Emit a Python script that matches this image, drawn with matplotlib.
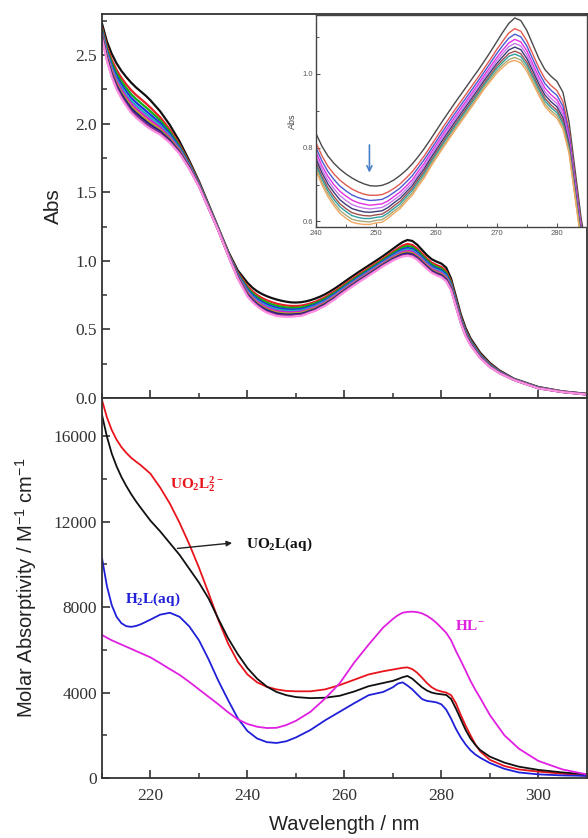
import matplotlib
matplotlib.use("Agg")
import matplotlib.pyplot as plt
from matplotlib.ticker import MultipleLocator

plt.rcParams['mathtext.fontset'] = 'custom'
plt.rcParams['mathtext.rm'] = 'Liberation Sans'
plt.rcParams['mathtext.bf'] = 'Liberation Serif:bold'
plt.rcParams['mathtext.it'] = 'Liberation Sans:italic'

# ---------------- Top panel: titration spectra (Abs) ----------------
wl_top = [210, 211, 212, 213, 214, 215, 216, 217, 218, 219, 220, 222, 224, 226, 228, 230, 232, 234, 236, 238,
          240, 241, 242, 243, 244, 245, 246, 247, 248, 249,
          250, 251, 252, 253, 254, 255, 256, 257, 258, 259,
          260, 261, 262, 263, 264, 265, 266, 267, 268, 269,
          270, 271, 272, 273, 274, 275, 276, 277, 278, 279,
          280, 281, 282, 283, 284, 285, 286,
          288, 290, 292, 295, 300, 305, 310]

abs_1 = [2.73, 2.60, 2.51, 2.44, 2.385, 2.34, 2.30, 2.265, 2.235, 2.205, 2.17, 2.09, 1.99, 1.87, 1.73, 1.58, 1.41, 1.24, 1.07, 0.93,
         0.840, 0.805, 0.778, 0.758, 0.742, 0.729, 0.718, 0.709, 0.702, 0.697,
         0.696, 0.698, 0.704, 0.713, 0.725, 0.739, 0.756, 0.776, 0.798, 0.822,
         0.847, 0.872, 0.896, 0.920, 0.943, 0.966, 0.989, 1.012, 1.036, 1.061,
         1.087, 1.113, 1.137, 1.152, 1.145, 1.118, 1.080, 1.042, 1.012, 0.994,
         0.980, 0.950, 0.870, 0.740, 0.610, 0.510, 0.435,
         0.330, 0.255, 0.200, 0.140, 0.080, 0.048, 0.030]
abs_2 = [2.702, 2.565, 2.467, 2.392, 2.335, 2.287, 2.245, 2.210, 2.180, 2.150, 2.117, 2.047, 1.957, 1.847, 1.715, 1.570, 1.402, 1.235, 1.062, 0.915,
         0.815, 0.779, 0.750, 0.729, 0.712, 0.699, 0.688, 0.680, 0.674, 0.671,
         0.671, 0.673, 0.680, 0.690, 0.702, 0.718, 0.735, 0.756, 0.778, 0.803,
         0.828, 0.853, 0.877, 0.901, 0.924, 0.947, 0.970, 0.993, 1.017, 1.041,
         1.066, 1.089, 1.111, 1.123, 1.116, 1.090, 1.054, 1.017, 0.987, 0.969,
         0.955, 0.925, 0.849, 0.721, 0.594, 0.495, 0.422,
         0.320, 0.247, 0.195, 0.137, 0.077, 0.047, 0.029]
abs_3 = [2.688, 2.547, 2.445, 2.368, 2.309, 2.260, 2.216, 2.181, 2.151, 2.121, 2.090, 2.025, 1.941, 1.836, 1.707, 1.565, 1.399, 1.232, 1.059, 0.907,
         0.802, 0.765, 0.736, 0.714, 0.696, 0.683, 0.672, 0.665, 0.660, 0.657,
         0.658, 0.660, 0.668, 0.679, 0.691, 0.707, 0.724, 0.746, 0.768, 0.793,
         0.818, 0.843, 0.867, 0.891, 0.914, 0.937, 0.960, 0.983, 1.007, 1.031,
         1.055, 1.077, 1.097, 1.108, 1.101, 1.076, 1.040, 1.004, 0.974, 0.956,
         0.942, 0.912, 0.838, 0.711, 0.585, 0.487, 0.416,
         0.315, 0.244, 0.192, 0.136, 0.076, 0.046, 0.028]
abs_4 = [2.675, 2.530, 2.425, 2.345, 2.285, 2.235, 2.190, 2.155, 2.125, 2.095, 2.065, 2.005, 1.925, 1.825, 1.700, 1.560, 1.395, 1.230, 1.055, 0.900,
         0.790, 0.752, 0.723, 0.700, 0.682, 0.669, 0.658, 0.651, 0.647, 0.644,
         0.646, 0.648, 0.656, 0.668, 0.680, 0.696, 0.713, 0.736, 0.758, 0.784,
         0.809, 0.834, 0.858, 0.882, 0.905, 0.928, 0.951, 0.974, 0.998, 1.021,
         1.044, 1.065, 1.084, 1.094, 1.087, 1.063, 1.027, 0.992, 0.962, 0.944,
         0.930, 0.900, 0.827, 0.702, 0.577, 0.480, 0.410,
         0.310, 0.240, 0.190, 0.135, 0.075, 0.045, 0.027]
abs_5 = [2.664, 2.516, 2.408, 2.326, 2.265, 2.214, 2.168, 2.133, 2.103, 2.073, 2.044, 1.988, 1.912, 1.816, 1.694, 1.556, 1.392, 1.228, 1.052, 0.894,
         0.780, 0.742, 0.712, 0.689, 0.670, 0.657, 0.646, 0.640, 0.636, 0.634,
         0.636, 0.638, 0.647, 0.659, 0.671, 0.688, 0.705, 0.728, 0.750, 0.777,
         0.802, 0.827, 0.851, 0.875, 0.898, 0.921, 0.944, 0.967, 0.991, 1.013,
         1.036, 1.056, 1.074, 1.083, 1.076, 1.052, 1.017, 0.982, 0.952, 0.934,
         0.920, 0.890, 0.819, 0.695, 0.571, 0.474, 0.405,
         0.306, 0.237, 0.188, 0.134, 0.074, 0.045, 0.027]
abs_6 = [2.654, 2.503, 2.393, 2.309, 2.247, 2.195, 2.148, 2.113, 2.083, 2.053, 2.025, 1.973, 1.900, 1.808, 1.689, 1.552, 1.389, 1.226, 1.049, 0.889,
         0.771, 0.733, 0.702, 0.679, 0.659, 0.646, 0.635, 0.630, 0.626, 0.625,
         0.627, 0.629, 0.638, 0.651, 0.663, 0.680, 0.697, 0.721, 0.743, 0.770,
         0.795, 0.820, 0.844, 0.868, 0.891, 0.914, 0.937, 0.960, 0.984, 1.006,
         1.028, 1.047, 1.065, 1.073, 1.066, 1.042, 1.008, 0.973, 0.943, 0.925,
         0.911, 0.881, 0.811, 0.688, 0.565, 0.469, 0.400,
         0.302, 0.234, 0.186, 0.133, 0.073, 0.045, 0.027]
abs_7 = [2.644, 2.491, 2.377, 2.292, 2.229, 2.176, 2.128, 2.093, 2.063, 2.033, 2.006, 1.957, 1.889, 1.800, 1.683, 1.549, 1.387, 1.224, 1.047, 0.883,
         0.762, 0.723, 0.692, 0.668, 0.648, 0.635, 0.624, 0.619, 0.616, 0.615,
         0.618, 0.620, 0.630, 0.643, 0.655, 0.673, 0.690, 0.714, 0.736, 0.763,
         0.788, 0.813, 0.837, 0.861, 0.884, 0.907, 0.930, 0.953, 0.977, 0.999,
         1.021, 1.039, 1.055, 1.062, 1.055, 1.032, 0.998, 0.964, 0.934, 0.916,
         0.902, 0.872, 0.804, 0.681, 0.559, 0.463, 0.396,
         0.299, 0.232, 0.184, 0.132, 0.072, 0.044, 0.026]
abs_8 = [2.636, 2.481, 2.365, 2.278, 2.215, 2.161, 2.113, 2.078, 2.048, 2.018, 1.991, 1.945, 1.879, 1.793, 1.679, 1.546, 1.384, 1.223, 1.044, 0.879,
         0.755, 0.716, 0.684, 0.660, 0.640, 0.627, 0.616, 0.611, 0.608, 0.608,
         0.611, 0.613, 0.623, 0.636, 0.648, 0.667, 0.684, 0.708, 0.730, 0.758,
         0.783, 0.808, 0.832, 0.856, 0.879, 0.902, 0.925, 0.948, 0.972, 0.993,
         1.015, 1.032, 1.048, 1.054, 1.047, 1.024, 0.991, 0.957, 0.927, 0.909,
         0.895, 0.865, 0.798, 0.676, 0.555, 0.459, 0.392,
         0.296, 0.229, 0.183, 0.131, 0.071, 0.044, 0.026]
abs_9 = [2.628, 2.470, 2.352, 2.263, 2.199, 2.145, 2.095, 2.060, 2.030, 2.000, 1.975, 1.932, 1.869, 1.786, 1.674, 1.543, 1.382, 1.221, 1.042, 0.874,
         0.747, 0.707, 0.676, 0.651, 0.630, 0.617, 0.606, 0.602, 0.600, 0.599,
         0.603, 0.605, 0.616, 0.629, 0.641, 0.660, 0.677, 0.702, 0.724, 0.752,
         0.777, 0.802, 0.826, 0.850, 0.873, 0.896, 0.919, 0.942, 0.966, 0.987,
         1.008, 1.025, 1.039, 1.045, 1.038, 1.016, 0.982, 0.949, 0.919, 0.901,
         0.887, 0.857, 0.791, 0.670, 0.550, 0.454, 0.388,
         0.293, 0.227, 0.181, 0.131, 0.071, 0.043, 0.025]
abs_10 = [2.620, 2.460, 2.340, 2.250, 2.185, 2.130, 2.080, 2.045, 2.015, 1.985, 1.960, 1.920, 1.860, 1.780, 1.670, 1.540, 1.380, 1.220, 1.040, 0.870,
          0.740, 0.700, 0.668, 0.643, 0.622, 0.609, 0.598, 0.594, 0.592, 0.592,
          0.596, 0.598, 0.609, 0.623, 0.635, 0.654, 0.671, 0.696, 0.718, 0.747,
          0.772, 0.797, 0.821, 0.845, 0.868, 0.891, 0.914, 0.937, 0.961, 0.981,
          1.002, 1.018, 1.032, 1.037, 1.030, 1.008, 0.975, 0.942, 0.912, 0.894,
          0.880, 0.850, 0.785, 0.665, 0.545, 0.450, 0.385,
          0.290, 0.225, 0.180, 0.130, 0.070, 0.043, 0.025]

top_series = [abs_1, abs_2, abs_3, abs_4, abs_5, abs_6, abs_7, abs_8, abs_9, abs_10]
main_colors = ['#111111', '#e8202a', '#10b010', '#2030e0', '#20b0c0', '#d020d0',
               '#c0a020', '#202080', '#803090', '#ff90e0']
inset_colors = ['#4a4a4a', '#e05a50', '#4a5ad0', '#e030e0', '#c878f0', '#3c3c78',
                '#a05050', '#30a0a0', '#a8a878', '#f0a860']

# ---------------- Bottom panel: molar absorptivity ----------------
wl_bot = [210, 211, 212, 213, 214, 215, 216, 217, 218,
          220, 222, 224, 226, 228, 230, 232, 234, 236, 238, 240, 242, 244, 246, 248, 250,
          253, 256, 259, 262, 265, 268,
          270, 271, 272, 273, 274, 275, 276, 277, 278, 279, 280, 281, 282, 283, 284, 285, 286, 287, 288,
          290, 293, 296, 300, 305, 310]
eps_UO2L2 = [17700, 16900, 16300, 15850, 15500, 15230, 15000, 14820, 14650,
             14250, 13600, 12850, 11950, 10950, 9850, 8650, 7400, 6300, 5450, 4850, 4480, 4270, 4150, 4080, 4060,
             4060, 4150, 4350, 4600, 4850, 5000,
             5080, 5120, 5160, 5180, 5100, 4930, 4700, 4450, 4250, 4120, 4050, 4000, 3880, 3500, 2950, 2450, 2000, 1580, 1250,
             850, 560, 400, 300, 200, 100]
eps_UO2L = [17000, 16000, 15200, 14600, 14100, 13680, 13300, 12960, 12650,
            12050, 11550, 11000, 10450, 9800, 9150, 8400, 7450, 6550, 5800, 5150, 4650, 4280, 4030, 3880, 3790,
            3740, 3760, 3850, 4050, 4300, 4450,
            4550, 4630, 4720, 4780, 4650, 4450, 4250, 4100, 4000, 3950, 3920, 3890, 3700, 3250, 2750, 2250, 1850, 1550, 1310,
            1000, 720, 530, 380, 260, 170]
eps_H2L = [10300, 9000, 8100, 7550, 7250, 7110, 7080, 7120, 7200,
           7420, 7650, 7740, 7550, 7100, 6450, 5550, 4550, 3650, 2800, 2200, 1850, 1680, 1640, 1720, 1900,
           2250, 2700, 3100, 3500, 3880, 4030,
           4250, 4420, 4480, 4330, 4150, 3920, 3700, 3610, 3580, 3540, 3450, 3200, 2780, 2300, 1900, 1570, 1300, 1100, 950,
           700, 430, 260, 170, 120, 100]
eps_HL = [6700, 6570, 6450, 6350, 6250, 6150, 6050, 5950, 5850,
          5650, 5380, 5100, 4830, 4500, 4150, 3800, 3450, 3080, 2750, 2530, 2400, 2340, 2350, 2480, 2680,
          3100, 3720, 4430, 5400, 6250, 7050,
          7450, 7620, 7740, 7780, 7790, 7770, 7710, 7600, 7450, 7260, 7030, 6800, 6450, 5950, 5500, 5030, 4550, 4130, 3750,
          2950, 2000, 1370, 800, 400, 170]

bot_series = [eps_UO2L2, eps_UO2L, eps_H2L, eps_HL]
bot_colors = ['#e8141c', '#111111', '#2020d8', '#e020e0']

# ---------------- Figure ----------------
fig = plt.figure(figsize=(5.88, 8.38), dpi=100)
L, W = 0.1735, 0.8245
ax1 = fig.add_axes([L, 0.5251, W, 0.4582])
ax2 = fig.add_axes([L, 0.0716, W, 0.4535])

spine_col = '#333333'

def style_axis(ax):
    for s in ax.spines.values():
        s.set_color(spine_col)
        s.set_linewidth(1.3)
    ax.tick_params(which='both', direction='in', colors=spine_col, top=False, right=False)
    ax.tick_params(which='major', length=6, width=1.2, labelsize=12.5, labelcolor='#333333')
    ax.tick_params(which='minor', length=3.5, width=1.1)
    for lab in ax.get_xticklabels() + ax.get_yticklabels():
        lab.set_fontfamily('Liberation Serif')

for s, c in zip(top_series, main_colors):
    ax1.plot(wl_top, s, color=c, lw=1.6)
ax1.set_xlim(210, 310)
ax1.set_ylim(0, 2.8)
ax1.xaxis.set_major_locator(MultipleLocator(20))
ax1.xaxis.set_minor_locator(MultipleLocator(10))
ax1.yaxis.set_major_locator(MultipleLocator(0.5))
ax1.yaxis.set_minor_locator(MultipleLocator(0.25))
ax1.yaxis.set_major_formatter(plt.FuncFormatter(lambda v, p: f"{v:.1f}"))
ax1.tick_params(labelbottom=False)
style_axis(ax1)
ax1.set_ylabel('Abs', family='Liberation Sans', size=15, color='#222222', labelpad=9)

for s, c in zip(bot_series, bot_colors):
    ax2.plot(wl_bot, s, color=c, lw=1.3)
ax2.set_xlim(210, 310)
ax2.set_ylim(0, 17800)
ax2.xaxis.set_major_locator(MultipleLocator(20))
ax2.xaxis.set_minor_locator(MultipleLocator(10))
ax2.yaxis.set_major_locator(MultipleLocator(4000))
ax2.yaxis.set_minor_locator(MultipleLocator(2000))
style_axis(ax2)
ax2.tick_params(axis='x', which='major', pad=7)
ax2.set_xlabel('Wavelength / nm', family='Liberation Sans', size=14.5, color='#222222', labelpad=8)
ax2.set_ylabel(r'Molar Absorptivity / M$^{-1}$ cm$^{-1}$', family='Liberation Sans', size=14.5,
               color='#222222', labelpad=11)

ax2.text(224.0, 13750, r'$\mathbf{UO_2L_2^{2-}}$', color='#e8141c', fontsize=11, va='center', ha='left')
ax2.text(239.8, 10930, r'$\mathbf{UO_2L(aq)}$', color='#111111', fontsize=11, va='center', ha='left')
ax2.text(214.7, 8350, r'$\mathbf{H_2L(aq)}$', color='#2020d8', fontsize=11, va='center', ha='left')
ax2.text(282.8, 7150, r'$\mathbf{HL^{-}}$', color='#e020e0', fontsize=11, va='center', ha='left')
ax2.annotate('', xy=(237.4, 11020), xytext=(225.0, 10740),
             arrowprops=dict(arrowstyle='-|>', color='#222222', lw=1.0, mutation_scale=8))

# ---------------- Inset ----------------
axi = fig.add_axes([0.537, 0.7291, 0.4615, 0.2530])
for s, c in zip(top_series, inset_colors):
    axi.plot(wl_top, s, color=c, lw=1.0)
axi.set_xlim(240, 285)
axi.set_ylim(0.585, 1.16)
axi.xaxis.set_major_locator(MultipleLocator(10))
axi.xaxis.set_minor_locator(MultipleLocator(5))
axi.yaxis.set_major_locator(MultipleLocator(0.2))
axi.yaxis.set_minor_locator(MultipleLocator(0.1))
axi.yaxis.set_major_formatter(plt.FuncFormatter(lambda v, p: f"{v:.1f}"))
for s in axi.spines.values():
    s.set_color('#444444')
    s.set_linewidth(1.0)
axi.tick_params(which='both', direction='in', colors='#555555', labelsize=5.5, pad=2)
axi.tick_params(which='major', length=3, width=0.8)
axi.tick_params(which='minor', length=2, width=0.7)
for lab in axi.get_xticklabels() + axi.get_yticklabels():
    lab.set_fontfamily('Liberation Sans')
axi.set_ylabel('Abs', family='Liberation Sans', size=6.5, color='#444444', labelpad=4)
axi.annotate('', xy=(248.9, 0.725), xytext=(248.9, 0.815),
             arrowprops=dict(arrowstyle='->', color='#4a80c8', lw=1.2, mutation_scale=9))

fig.savefig('out.png', dpi=100)
